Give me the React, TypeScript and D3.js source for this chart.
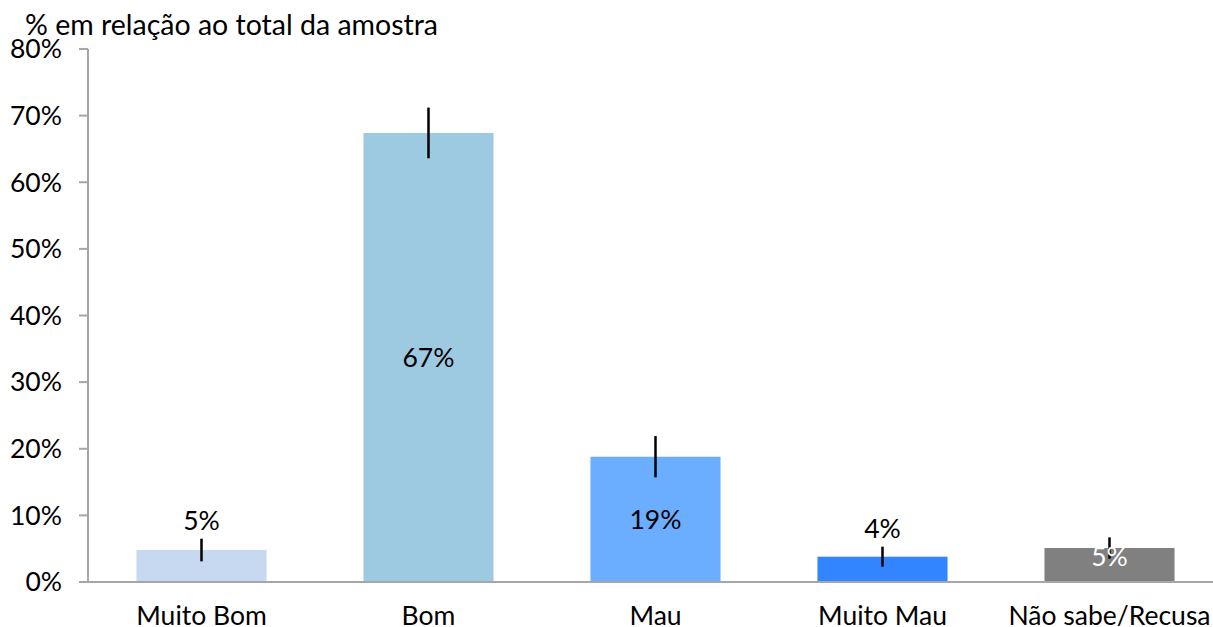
import React from "react";
import * as d3 from "d3";

const categories = ["Muito Bom", "Bom", "Mau", "Muito Mau", "Não sabe/Recusa"];
const values = [4.8, 67.4, 18.8, 3.8, 5.1];
const errors = [1.7, 3.8, 3.1, 1.5, 1.6];
const labels = ["5%", "67%", "19%", "4%", "5%"];
const colors = ["#c6d9f0", "#9ecae1", "#6baeff", "#3385ff", "#808080"];
const labelInside = [false, true, true, false, true];
const labelColors = ["#000", "#000", "#000", "#000", "#fff"];
const yTicks = [0, 10, 20, 30, 40, 50, 60, 70, 80];

export default function App() {
  const W = 1213, H = 627;
  const x0 = 88, y0 = 582, yTop = 49;
  const y = d3.scaleLinear().domain([0, 80]).range([y0, yTop]);
  const x = d3.scaleBand().domain(categories).range([x0, x0 + 5 * 227]).paddingInner(0.427).paddingOuter(0.2135);
  const font = "Lato, 'Open Sans', sans-serif";
  const axisColor = "#a6a6a6";
  const fs = 26.5;
  return (
    <svg width={W} height={H} style={{ position: "absolute", left: 0, top: 0 }} fontFamily={font}>
      <rect width={W} height={H} fill="#fff" />
      <text x={25} y={35} fontSize={28.5} fill="#000">% em relação ao total da amostra</text>
      {categories.map((c, i) => {
        const bx = x(c)!;
        const bw = x.bandwidth();
        const cx = bx + bw / 2;
        const top = y(values[i]);
        const eTop = y(values[i] + errors[i]);
        const eBot = y(values[i] - errors[i]);
        const ly = labelInside[i] ? (top + y0) / 2 - (i === 4 ? 8 : 0) : eTop - 18;
        return (
          <g key={c}>
            <rect x={bx} y={top} width={bw} height={y0 - top} fill={colors[i]} />
            <line x1={cx} x2={cx} y1={eTop} y2={eBot} stroke="#000" strokeWidth={2.5} />
            <text x={cx} y={ly} dy="0.35em" textAnchor="middle" fontSize={fs} fill={labelColors[i]}>{labels[i]}</text>
            <text x={cx} y={625} textAnchor="middle" fontSize={fs} fill="#000">{c}</text>
          </g>
        );
      })}
      <line x1={x0} x2={W} y1={y0} y2={y0} stroke={axisColor} strokeWidth={2} />
      <line x1={x0} x2={x0} y1={yTop} y2={y0} stroke={axisColor} strokeWidth={2} />
      {yTicks.map((t) => (
        <g key={t}>
          <line x1={x0 - 9} x2={x0} y1={y(t)} y2={y(t)} stroke={axisColor} strokeWidth={2} />
          <text x={62} y={y(t)} dy="0.35em" textAnchor="end" fontSize={fs} fill="#000">{t}%</text>
        </g>
      ))}
    </svg>
  );
}
